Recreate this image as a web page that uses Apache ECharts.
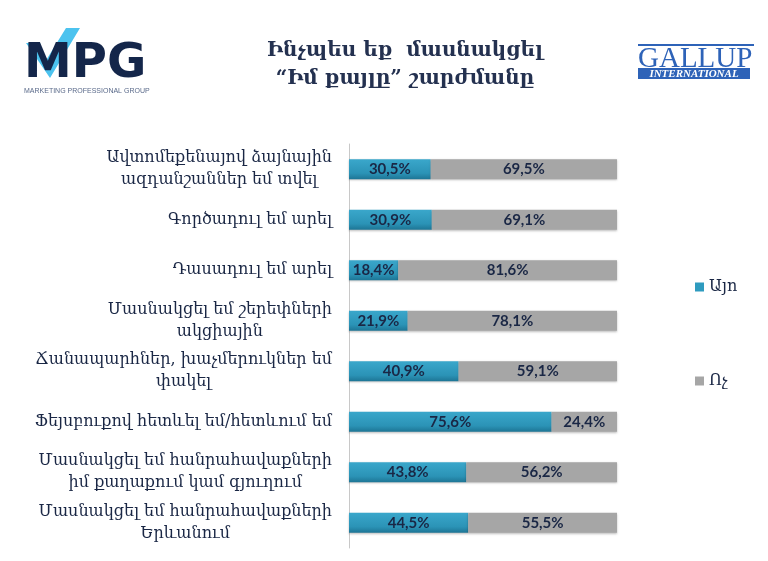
<!DOCTYPE html>
<html>
<head>
<meta charset="utf-8">
<script src="https://cdn.jsdelivr.net/npm/echarts@6/dist/echarts.min.js"></script>
<style>
  html, body { margin: 0; padding: 0; background: #fff; }
  #chart { width: 768px; height: 561px; }
</style>
</head>
<body>
<div id="chart"></div>
<script>
// categories top to bottom
const categories = [
  'Ավտոմեքենայով ձայնային\nազդանշաններ եմ տվել',
  'Գործադուլ եմ արել',
  'Դասադուլ եմ արել',
  'Մասնակցել եմ շերեփների\nակցիային',
  'Ճանապարհներ, խաչմերուկներ եմ\nփակել',
  'Ֆեյսբուքով հետևել եմ/հետևում եմ',
  'Մասնակցել եմ հանրահավաքների\nիմ քաղաքում կամ գյուղում',
  'Մասնակցել եմ հանրահավաքների\nԵրևանում'
]
const yesValues = [30.5, 30.9, 18.4, 21.9, 40.9, 75.6, 43.8, 44.5]
const noValues = [69.5, 69.1, 81.6, 78.1, 59.1, 24.4, 56.2, 55.5]
const seriesNames = ['Այո', 'Ոչ']

const navy = '#1a2745'
const armFont = 'DejaVu Serif'

const chart = echarts.init(document.getElementById('chart'))

const fmt = function(p) {
  return p.value.toFixed(1).replace('.', ',') + '%'
}

chart.setOption({
  animation: false,
  title: {
    text: 'Ինչպես եք  մասնակցել\n“Իմ քայլը” շարժմանը',
    left: 400,
    top: 32,
    textAlign: 'center',
    textStyle: {
      fontFamily: armFont,
      fontSize: 20,
      fontWeight: 'bold',
      color: '#243150',
      lineHeight: 28,
      align: 'center'
    }
  },
  legend: {
    orient: 'vertical',
    left: 690,
    top: 274,
    itemGap: 78,
    itemWidth: 9,
    itemHeight: 9,
    icon: 'rect',
    textStyle: { fontFamily: armFont, fontSize: 16, color: navy },
    data: [
      { name: seriesNames[0], itemStyle: { color: '#2e9bbf' } },
      { name: seriesNames[1], itemStyle: { color: '#a6a6a6' } }
    ]
  },
  grid: {
    left: 349,
    top: 144,
    width: 268,
    height: 404
  },
  xAxis: {
    type: 'value',
    min: 0,
    max: 100,
    show: false
  },
  yAxis: {
    type: 'category',
    inverse: true,
    data: categories,
    axisLine: { lineStyle: { color: '#c8c8c8' } },
    axisTick: { length: 5, lineStyle: { color: '#c8c8c8' } },
    axisLabel: {
      margin: 17,
      color: navy,
      fontFamily: armFont,
      fontSize: 16,
      lineHeight: 22,
      formatter: function(v) {
        return v.split('\n').map(function(s) { return '{c|' + s + '}' }).join('\n')
      },
      rich: {
        c: { align: 'center', fontFamily: armFont, fontSize: 16, color: navy, lineHeight: 22 }
      }
    }
  },
  series: [
    {
      name: seriesNames[0],
      type: 'bar',
      stack: 'total',
      barWidth: 20,
      data: yesValues,
      itemStyle: {
        color: new echarts.graphic.LinearGradient(0, 0, 0, 1, [
          { offset: 0, color: '#3aa7cb' },
          { offset: 0.7, color: '#2b93b6' },
          { offset: 1, color: '#1d7595' }
        ]),
        shadowColor: 'rgba(0,0,0,0.25)',
        shadowBlur: 2,
        shadowOffsetY: 1
      },
      label: {
        show: true,
        position: 'inside',
        formatter: fmt,
        color: navy,
        fontFamily: 'Lato',
        fontWeight: 'bold',
        fontSize: 15
      }
    },
    {
      name: seriesNames[1],
      type: 'bar',
      stack: 'total',
      barWidth: 20,
      data: noValues,
      itemStyle: {
        color: '#a6a6a6',
        shadowColor: 'rgba(0,0,0,0.25)',
        shadowBlur: 2,
        shadowOffsetY: 1
      },
      label: {
        show: true,
        position: 'inside',
        formatter: fmt,
        color: navy,
        fontFamily: 'Lato',
        fontWeight: 'bold',
        fontSize: 15
      }
    }
  ],
  graphic: [
    // MPG logo
    {
      type: 'polyline',
      shape: { points: [[26, 43], [40, 43], [45, 62], [66, 28], [80, 28], [50, 78]] },
      style: { fill: '#4cc3ef', stroke: null }
    },
    {
      type: 'text',
      left: 24,
      top: 41,
      style: { text: 'MPG', font: 'bold 48px "DejaVu Sans"', fill: '#14264a' }
    },
    {
      type: 'text',
      left: 24,
      top: 88,
      style: { text: 'MARKETING PROFESSIONAL GROUP', font: '7px "Liberation Sans"', fill: '#5a6a8a' }
    },
    // GALLUP logo
    {
      type: 'rect',
      shape: { x: 638, y: 44, width: 116, height: 2 },
      style: { fill: '#2e63b8' }
    },
    {
      type: 'text',
      left: 638,
      top: 45,
      style: { text: 'GALLUP', font: '29px "Liberation Serif"', fill: '#2e63b8' }
    },
    {
      type: 'rect',
      shape: { x: 638, y: 68, width: 112, height: 11 },
      style: { fill: '#2e63b8' }
    },
    {
      type: 'text',
      x: 694,
      y: 74,
      style: {
        text: 'INTERNATIONAL',
        font: 'italic bold 11px "Liberation Serif"',
        fill: '#fff',
        align: 'center',
        verticalAlign: 'middle'
      }
    }
  ]
})
</script>
</body>
</html>
